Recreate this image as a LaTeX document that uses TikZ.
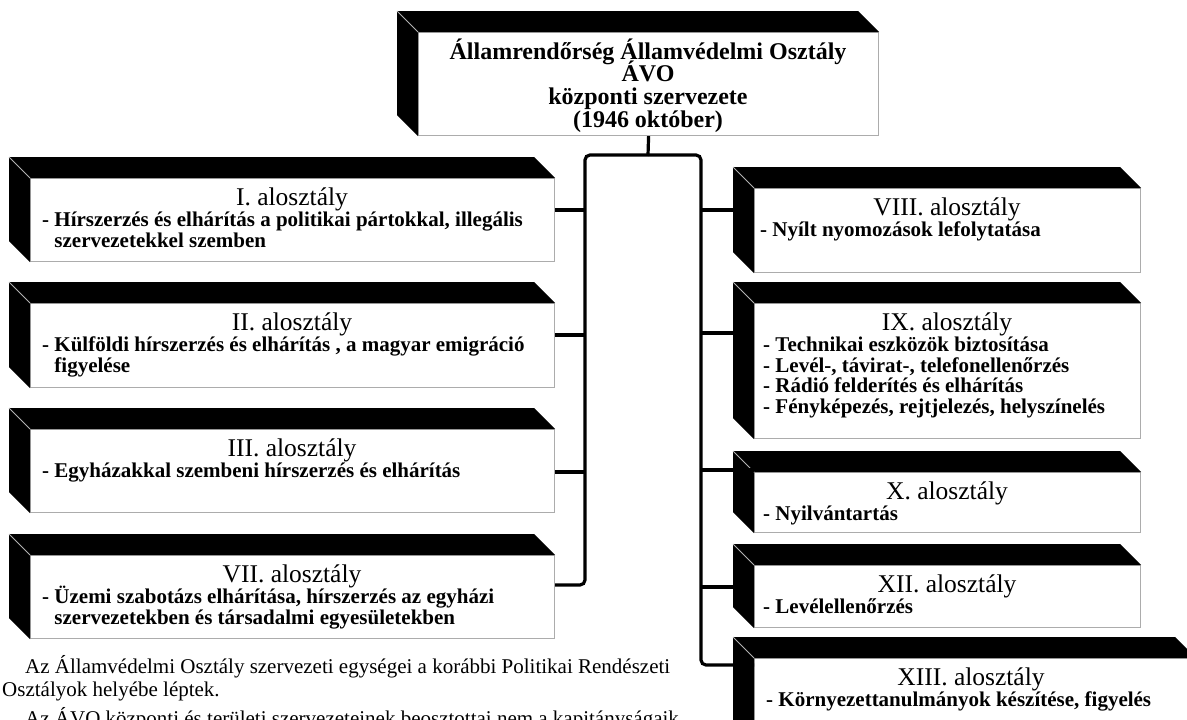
\documentclass[tikz,border=0pt]{standalone}
\usepackage{fontspec}
\setmainfont{Liberation Serif}
\usetikzlibrary{calc}
\newcommand\rows[1]{\vtop{\baselineskip=20.5pt\lineskiplimit=-100pt\lineskip=0pt\halign{##\hfil\cr#1\crcr}}}
\newcommand\crows[1]{\vtop{\baselineskip=22.7pt\lineskiplimit=-100pt\lineskip=0pt\halign{\hfil##\hfil\cr#1\crcr}}}
\newcommand\threed[1]{%
  \fill ($(#1.north west)+(-21,-21)$) -- ($(#1.north east)+(-21,-21)$) -- (#1.north east) -- (#1.north west) -- cycle;
  \fill ($(#1.north west)+(-21,-21)$) -- (#1.north west) -- (#1.south west) -- ($(#1.south west)+(-21,-21)$) -- cycle;
  \draw[gray!60, line width=0.8pt] ($(#1.north west)+(-21,-21)$) -- (#1.north west);
}
\tikzset{
  front/.style={draw=gray!65, line width=1.2pt, fill=white, inner sep=0pt, anchor=north west},
  conn/.style={line width=3.2pt},
  ttl/.style={inner sep=0pt, anchor=base, font=\fontsize{25.5}{25}\selectfont},
  body/.style={inner sep=0pt, anchor=base west, font=\fontsize{21}{20.5}\selectfont\bfseries},
  toptxt/.style={inner sep=0pt, anchor=base, font=\fontsize{24}{22.7}\selectfont\bfseries},
  para/.style={inner sep=0pt, anchor=base west, font=\fontsize{21}{22}\selectfont},
}
\begin{document}
\begin{tikzpicture}[x=1pt,y=-1pt]
\useasboundingbox (0,0) rectangle (1187,720);
\clip (0,0) rectangle (1187,720);
\fill[white] (0,0) rectangle (1187,720);

% front faces
\node[front, minimum width=460pt, minimum height=103pt] (top) at (418,32) {};
\node[front, minimum width=524pt, minimum height=83pt] (a1) at (30,178) {};
\node[front, minimum width=524pt, minimum height=84pt] (a2) at (30,303) {};
\node[front, minimum width=524pt, minimum height=83pt] (a3) at (30,429) {};
\node[front, minimum width=524pt, minimum height=83pt] (a7) at (30,555) {};
\node[front, minimum width=386pt, minimum height=84pt] (a8) at (754,188) {};
\node[front, minimum width=386pt, minimum height=135pt] (a9) at (754,303) {};
\node[front, minimum width=386pt, minimum height=60pt] (a10) at (754,472) {};
\node[front, minimum width=386pt, minimum height=62pt] (a12) at (754,565) {};
\node[front, minimum width=441pt, minimum height=100pt] (a13) at (754,658) {};

\foreach \b in {top,a1,a2,a3,a7,a8,a9,a10,a12,a13} {\threed{\b}}

% connectors
\coordinate (hub) at (648,155);
\coordinate (lc) at (585,155);
\coordinate (rc) at (701,155);
\coordinate (j1) at (585,210);
\coordinate (j2) at (585,335);
\coordinate (j3) at (585,472);
\coordinate (j7) at (585,585);
\coordinate (j8) at (701,210);
\coordinate (j9) at (701,333);
\coordinate (j10) at (701,470);
\coordinate (j12) at (701,587);
\coordinate (j13) at (701,665);
\draw[conn] (top.south) -- (hub);
\draw[conn, rounded corners=5pt] (hub) -- (lc) -- (j7) -- (a7.east |- j7);
\draw[conn, rounded corners=5pt] (hub) -- (rc) -- (j13) -- (a13.west |- j13);
\draw[conn] (j1) -- (a1.east |- j1);
\draw[conn] (j2) -- (a2.east |- j2);
\draw[conn] (j3) -- (a3.east |- j3);
\draw[conn] (j8) -- (a8.west |- j8);
\draw[conn] (j9) -- (a9.west |- j9);
\draw[conn] (j10) -- (a10.west |- j10);
\draw[conn] (j12) -- (a12.west |- j12);

% texts
\node[toptxt] (ttop) at (648,59) {\crows{Államrendőrség Államvédelmi Osztály\cr ÁVO\cr központi szervezete\cr (1946 október)}};

\node[ttl] (t1) at (292,205.5) {I. alosztály};
\node[body] (b1) at (42,226.5) {\rows{- Hírszerzés és elhárítás a politikai pártokkal, illegális\cr\phantom{- }szervezetekkel szemben}};
\node[ttl] (t2) at (292,330.5) {II. alosztály};
\node[body] (b2) at (42,351.5) {\rows{- Külföldi hírszerzés és elhárítás , a magyar emigráció\cr\phantom{- }figyelése}};
\node[ttl] (t3) at (292,456.5) {III. alosztály};
\node[body] (b3) at (42,477.5) {\rows{- Egyházakkal szembeni hírszerzés és elhárítás}};
\node[ttl] (t7) at (292,582.5) {VII. alosztály};
\node[body] (b7) at (42,603.5) {\rows{- Üzemi szabotázs elhárítása, hírszerzés az egyházi\cr\phantom{- }szervezetekben és társadalmi egyesületekben}};

\node[ttl] (t8) at (947,215.5) {VIII. alosztály};
\node[body] (b8) at (760,236.5) {\rows{- Nyílt nyomozások lefolytatása}};
\node[ttl] (t9) at (947,330.5) {IX. alosztály};
\node[body] (b9) at (763,351.5) {\rows{- Technikai eszközök biztosítása\cr - Levél-, távirat-, telefonellenőrzés\cr - Rádió felderítés és elhárítás\cr - Fényképezés, rejtjelezés, helyszínelés}};
\node[ttl] (t10) at (947,499.5) {X. alosztály};
\node[body] (b10) at (763,520.5) {\rows{- Nyilvántartás}};
\node[ttl] (t12) at (947,592.5) {XII. alosztály};
\node[body] (b12) at (763,613.5) {\rows{- Levélellenőrzés}};
\node[ttl] (t13) at (971,685.5) {XIII. alosztály};
\node[body] (b13) at (766,706.5) {\rows{- Környezettanulmányok készítése, figyelés}};

\node[para] (p1) at (25,673) {Az Államvédelmi Osztály szervezeti egységei a korábbi Politikai Rendészeti};
\node[para] (p2) at (2,696) {Osztályok helyébe léptek.};
\node[para] (p3) at (25,725) {Az ÁVO központi és területi szervezeteinek beosztottai nem a kapitányságaik};
\end{tikzpicture}
\end{document}
